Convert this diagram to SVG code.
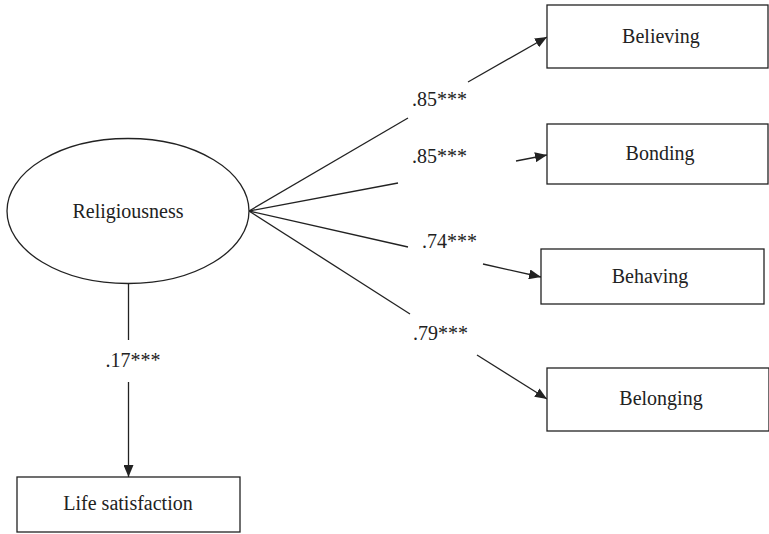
<svg xmlns="http://www.w3.org/2000/svg" width="769" height="534" viewBox="0 0 769 534">
<style>
.box{fill:#fff;stroke:#222;stroke-width:1.3}
.ln{stroke:#222;stroke-width:1.3;fill:none}
.t{font-family:"Liberation Serif","Times New Roman",serif;font-size:20px;fill:#222}
.m{text-anchor:middle}
</style>
<defs>
<marker id="ah" markerUnits="userSpaceOnUse" markerWidth="12" markerHeight="10" refX="12" refY="5" orient="auto">
<path d="M0,0 L12,5 L0,10 z" fill="#222"/>
</marker>
</defs>
<rect width="769" height="534" fill="#fff"/>
<g id="connectors">
<line class="ln" x1="249" y1="211" x2="408" y2="118"/>
<line class="ln" x1="468" y1="82" x2="547" y2="37" marker-end="url(#ah)"/>
<line class="ln" x1="249" y1="211" x2="398" y2="183"/>
<line class="ln" x1="516" y1="161" x2="547" y2="155" marker-end="url(#ah)"/>
<line class="ln" x1="249" y1="211" x2="408" y2="247"/>
<line class="ln" x1="483" y1="264" x2="541" y2="277" marker-end="url(#ah)"/>
<line class="ln" x1="249" y1="211" x2="410" y2="314"/>
<line class="ln" x1="477" y1="355" x2="547" y2="399" marker-end="url(#ah)"/>
<line class="ln" x1="128.5" y1="284" x2="128.5" y2="340"/>
<line class="ln" x1="128.5" y1="382" x2="128.5" y2="477" marker-end="url(#ah)"/>
<text class="t" x="412" y="106">.85***</text>
<text class="t" x="412" y="163">.85***</text>
<text class="t" x="422" y="248">.74***</text>
<text class="t" x="413" y="340">.79***</text>
<text class="t m" x="133" y="367">.17***</text>
</g>
<g id="religiousness">
<ellipse cx="128" cy="211" rx="121" ry="72.5" class="box"/>
<text class="t m" x="128" y="218">Religiousness</text>
</g>
<g id="believing">
<rect class="box" x="547" y="5" width="221" height="63"/>
<text class="t m" x="661" y="43">Believing</text>
</g>
<g id="bonding">
<rect class="box" x="547" y="124" width="221" height="60"/>
<text class="t m" x="660" y="160">Bonding</text>
</g>
<g id="behaving">
<rect class="box" x="541" y="249" width="223" height="55"/>
<text class="t m" x="650" y="283">Behaving</text>
</g>
<g id="belonging">
<rect class="box" x="547" y="368" width="222" height="63"/>
<text class="t m" x="661" y="405">Belonging</text>
</g>
<g id="life-satisfaction">
<rect class="box" x="17" y="477" width="223" height="55"/>
<text class="t m" x="128" y="510">Life satisfaction</text>
</g>
</svg>
